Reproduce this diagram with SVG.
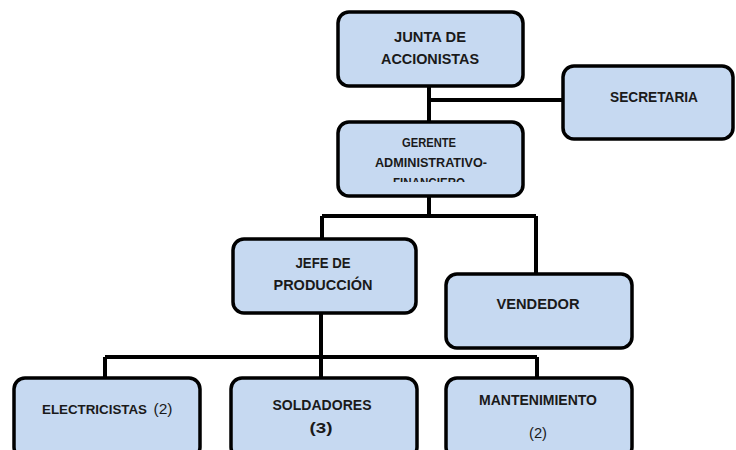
<svg xmlns="http://www.w3.org/2000/svg" width="736" height="450" viewBox="0 0 736 450">
<style>
.box{fill:#c6d9f1;stroke:#000;stroke-width:3.5}
.t{font-family:"Liberation Sans",Arial,sans-serif;font-weight:bold;font-size:15px;fill:#1a1a1a;text-anchor:middle}
.n{font-weight:normal}
.s{font-size:12.5px}
.e{font-size:13.5px}
.c{fill:none;stroke:#000;stroke-width:4}
</style>
<defs>
<clipPath id="gclip"><rect x="338" y="122" width="186" height="60"/></clipPath>
</defs>
<rect width="736" height="450" fill="#fff"/>
<g id="connectors">
<path class="c" d="M429 86V122M429 100H563"/>
<path class="c" d="M429 196V216M322 216H536M322 216V239M536 216V273"/>
<path class="c" d="M321 313V357M105 357H537M105 357V378M321 357V378M537 357V378"/>
</g>
<g id="junta">
<rect class="box" x="338" y="12" width="185" height="74" rx="11"/>
<text class="t" x="430" y="42" textLength="72" lengthAdjust="spacingAndGlyphs">JUNTA DE</text>
<text class="t" x="430" y="64" textLength="98" lengthAdjust="spacingAndGlyphs">ACCIONISTAS</text>
</g>
<g id="secretaria">
<rect class="box" x="563" y="66" width="170" height="73" rx="11"/>
<text class="t" x="654" y="102" textLength="88" lengthAdjust="spacingAndGlyphs">SECRETARIA</text>
</g>
<g id="gerente">
<rect class="box" x="338" y="122" width="185" height="74" rx="11"/>
<g clip-path="url(#gclip)">
<text class="t s" x="429" y="147" textLength="54" lengthAdjust="spacingAndGlyphs">GERENTE</text>
<text class="t s" x="431" y="167" textLength="112" lengthAdjust="spacingAndGlyphs">ADMINISTRATIVO-</text>
<text class="t s" x="429" y="187" textLength="72" lengthAdjust="spacingAndGlyphs">FINANCIERO</text>
</g>
</g>
<g id="jefe">
<rect class="box" x="233" y="239" width="183" height="74" rx="11"/>
<text class="t" x="323" y="268" textLength="55" lengthAdjust="spacingAndGlyphs">JEFE DE</text>
<text class="t" x="323" y="290" textLength="99" lengthAdjust="spacingAndGlyphs">PRODUCCIÓN</text>
</g>
<g id="vendedor">
<rect class="box" x="446" y="274" width="186" height="74" rx="11"/>
<text class="t" x="538" y="309" textLength="83" lengthAdjust="spacingAndGlyphs">VENDEDOR</text>
</g>
<g id="electricistas">
<rect class="box" x="14" y="378" width="186" height="80" rx="11"/>
<text class="t e" x="94.5" y="414" textLength="105" lengthAdjust="spacingAndGlyphs">ELECTRICISTAS</text>
<text class="t n" x="163" y="414" textLength="19" lengthAdjust="spacingAndGlyphs">(2)</text>
</g>
<g id="soldadores">
<rect class="box" x="231" y="378" width="186" height="80" rx="11"/>
<text class="t" x="322" y="410" textLength="99" lengthAdjust="spacingAndGlyphs">SOLDADORES</text>
<text class="t" x="321" y="433" textLength="23" lengthAdjust="spacingAndGlyphs">(3)</text>
</g>
<g id="mantenimiento">
<rect class="box" x="446" y="378" width="186" height="80" rx="11"/>
<text class="t" x="538" y="405" textLength="118" lengthAdjust="spacingAndGlyphs">MANTENIMIENTO</text>
<text class="t n" x="538" y="438" textLength="18" lengthAdjust="spacingAndGlyphs">(2)</text>
</g>
</svg>
